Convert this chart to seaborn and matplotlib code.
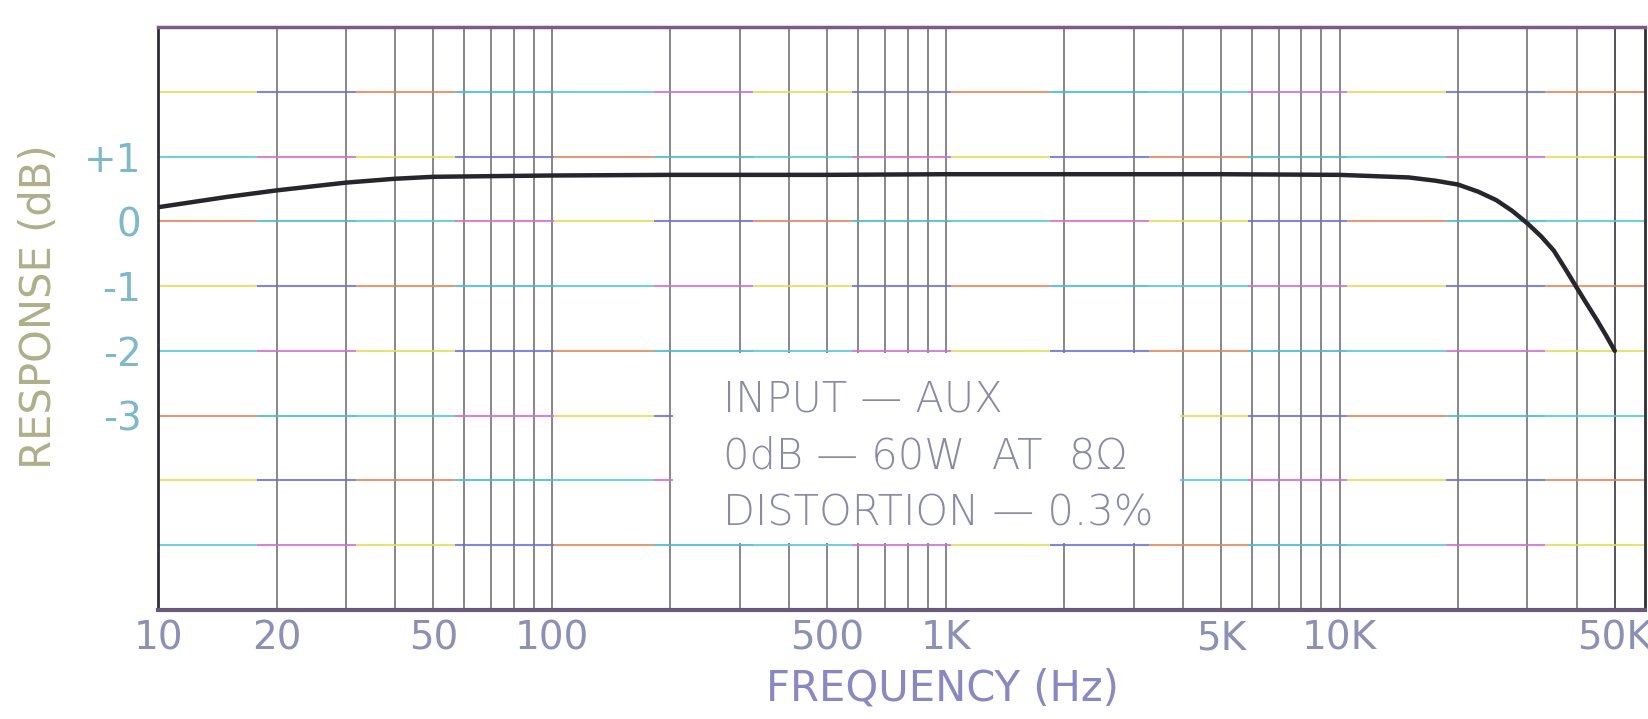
import numpy as np
import pandas as pd
import matplotlib
matplotlib.use("Agg")
import matplotlib.pyplot as plt
import seaborn as sns
from matplotlib.patches import Rectangle

# ---- data ----
freq_hz = [10, 15, 20, 30, 40, 50, 70, 100, 200, 500, 1000, 2000, 5000,
           10000, 15000, 17500, 20000, 22500, 25000, 27500, 30000, 32500,
           35000, 37500, 40000, 42500, 45000, 47500, 50000]
response_db = [0.22, 0.38, 0.48, 0.60, 0.66, 0.69, 0.70, 0.71, 0.72, 0.72, 0.73,
               0.73, 0.73, 0.72, 0.68, 0.63, 0.57, 0.46, 0.33, 0.16, -0.03, -0.23,
               -0.45, -0.74, -1.02, -1.28, -1.52, -1.76, -2.0]

x_tick_values = [10, 20, 50, 100, 500, 1000, 5000, 10000, 50000]
x_tick_labels = ["10", "20", "50", "100", "500", "1K", "5K", "10K", "50K"]
y_tick_values = [1, 0, -1, -2, -3]
y_tick_labels = ["+1", "0", "-1", "-2", "-3"]
note_lines = ["INPUT \u2014 AUX", "0dB \u2014 60W  AT  8\u03a9", "DISTORTION \u2014 0.3%"]

df = pd.DataFrame({"freq": freq_hz, "resp": response_db})

sns.set_style("white")
plt.rcParams["font.family"] = ["DejaVu Sans"]

fig = plt.figure(figsize=(16.48, 7.19), dpi=100)
ax = fig.add_axes([0.0959, 0.152, 0.902, 0.810])
ax.set_xscale("log")
ax.set_xlim(10, 59500)
ax.set_ylim(-6, 3)

# vertical grid (log decades)
vx = [m * 10 ** d for d in range(1, 5) for m in range(1, 10)]
vx = [v for v in vx if 10 < v < 59500] + [50000]
for v in vx:
    ax.axvline(v, color="#34343c", lw=1.1, alpha=0.75, zorder=1)

# horizontal grid with scan-like colour fringes
fringe = ["#55c8dc", "#cf6fcf", "#e4dc5a", "#6a72d2", "#e08a5a", "#4ab8d8"]
edges = np.logspace(1, np.log10(59500), 16)
for i, yv in enumerate(range(-5, 3)):
    for j in range(len(edges) - 1):
        ax.plot([edges[j], edges[j + 1]], [yv, yv],
                color=fringe[(i * 2 + j) % len(fringe)], lw=1.5, alpha=0.85,
                solid_capstyle="butt", zorder=1)

# white note box covering grid (200 Hz .. 4 kHz, -5 .. -2 dB)
ax.add_patch(Rectangle((203, -4.97), 3940 - 203, 2.94, facecolor="white",
                       edgecolor="none", zorder=2))

sns.lineplot(data=df, x="freq", y="resp", ax=ax, color="#26262c", lw=3.2,
             zorder=4)

for k, line in enumerate(note_lines):
    ax.text(272, -2.75 - k * 0.88, line, fontsize=30, color="#8a8aa6",
            ha="left", va="center", zorder=5, fontweight="light")

ax.set_xticks(x_tick_values)
ax.set_xticklabels(x_tick_labels)
ax.xaxis.set_minor_locator(matplotlib.ticker.NullLocator())
ax.set_yticks(y_tick_values)
ax.set_yticklabels(y_tick_labels)
ax.tick_params(axis="x", length=0, pad=7, labelsize=28, labelcolor="#8c90b4")
ax.tick_params(axis="y", length=0, pad=12, labelsize=28, labelcolor="#7fb8c8")

ax.set_xlabel("FREQUENCY (Hz)", fontsize=30, color="#8a88c0")
ax.xaxis.set_label_coords(0.528, -0.100)
ax.set_ylabel("RESPONSE (dB)", fontsize=30, color="#aeb08a")
ax.yaxis.set_label_coords(-0.066, 0.52)

for side in ["left", "right"]:
    ax.spines[side].set_color("#2e2e34")
    ax.spines[side].set_linewidth(2.0)
ax.spines["top"].set_color("#7a5a8a")
ax.spines["top"].set_linewidth(2.5)
ax.spines["bottom"].set_color("#6a5a7a")
ax.spines["bottom"].set_linewidth(3.0)
if ax.legend_ is not None:
    ax.legend_.remove()

fig.savefig("out.png", dpi=100)
